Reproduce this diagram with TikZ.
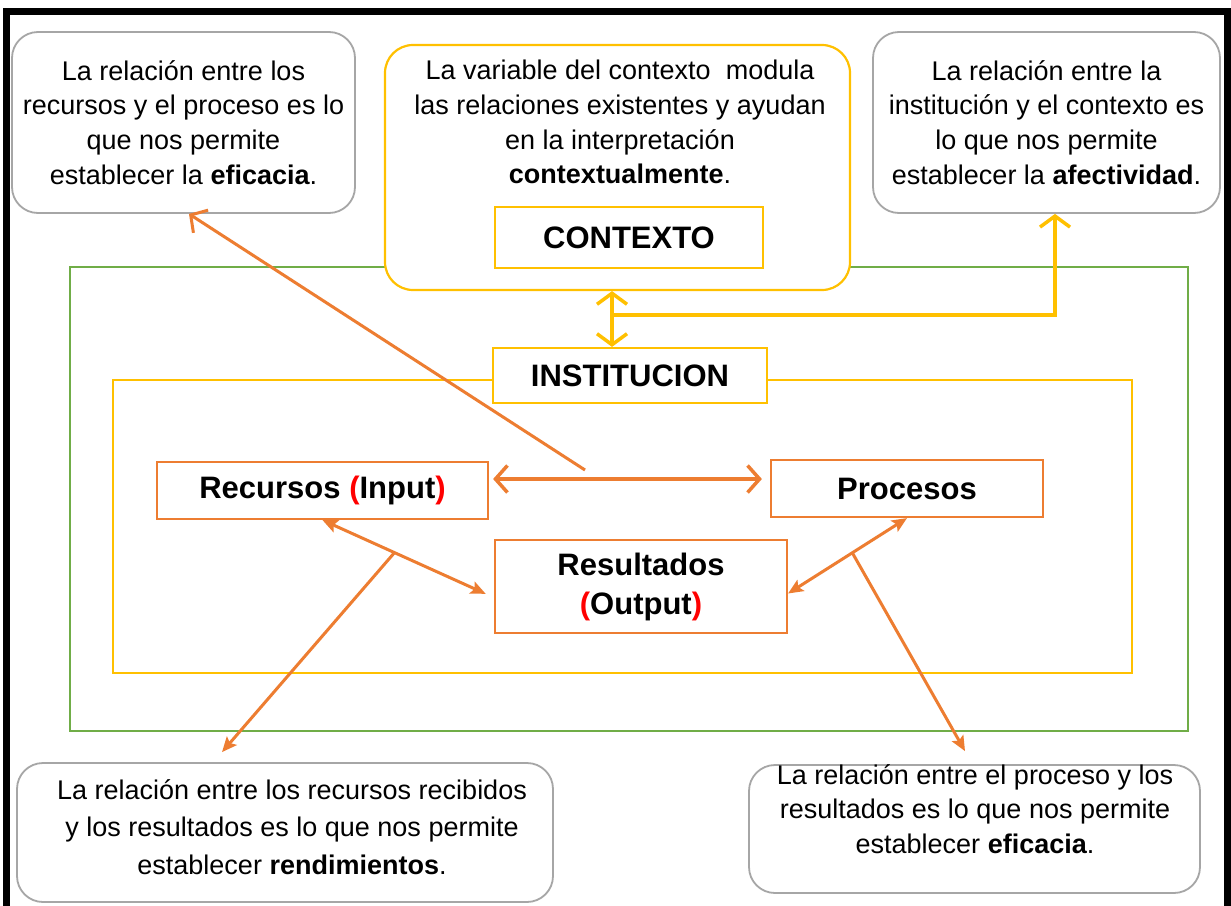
\documentclass[tikz,border=0pt]{standalone}
\usepackage{fontspec}
\setmainfont{Liberation Sans}
\usetikzlibrary{arrows.meta, positioning}

\definecolor{cOrange}{HTML}{ED7D31}
\definecolor{cYellow}{HTML}{FFC000}
\definecolor{cGreen}{HTML}{70AD47}
\definecolor{cGray}{HTML}{A6A6A6}
\definecolor{cRed}{HTML}{FF0000}

\begin{document}
\begin{tikzpicture}[x=1pt, y=-1pt]
		\tikzstyle{NoteBox} = [rectangle, rounded corners=26pt, draw=cGray, line width=1.8pt, fill=white]
		\tikzstyle{NoteText} = [align=center, inner sep=0pt, font=\fontsize{27}{34.7}\selectfont]
		\tikzstyle{FrameBox} = [rectangle, line width=2pt]
		\tikzstyle{OrangeBox} = [rectangle, draw=cOrange, line width=2.2pt, fill=white, align=center, font=\bfseries\fontsize{31}{39}\selectfont]
		\tikzstyle{YellowBox} = [rectangle, draw=cYellow, line width=2.2pt, fill=white, font=\bfseries\fontsize{31}{37}\selectfont]
		\tikzstyle{ctxArrow} = [color=cYellow, line width=3.5pt, >={Straight Barb[length=11pt, width=30pt]}]
		\tikzstyle{barbArrow} = [color=cOrange, line width=3.5pt, >={Straight Barb[length=12pt, width=27pt]}]
		\tikzstyle{arrow} = [color=cOrange, line width=3pt, >={Stealth[length=15pt, width=13pt, inset=3pt]}]
		
		\useasboundingbox (0,0) rectangle (1231,905);
		\fill[white] (0,0) rectangle (1231,905);
		\draw[line width=7.5pt] (6.5,915) -- (6.5,11.5) -- (1227.5,11.5) -- (1227.5,915);
		
		% entorno y contexto
		\node (entorno) [FrameBox, draw=cGreen, minimum width=1118pt, minimum height=464pt] at (629,499) {};
		\node (ctxOuter) [rectangle, rounded corners=28pt, draw=cYellow, line width=2.2pt, fill=white, minimum width=465pt, minimum height=245pt] at (617.5,167.5) {};
		\node (ctxTxt) [NoteText] at (620,122) {La variable del contexto~~modula\\las relaciones existentes y ayudan\\en la interpretaci\'on\\\textbf{contextualmente}.};
		\node (ctx) [YellowBox, minimum width=268pt, minimum height=61pt] at (629,237.5) {CONTEXTO};
		
		% institucion
		\node (instMarco) [FrameBox, draw=cYellow, minimum width=1019pt, minimum height=293pt] at (622.5,526.5) {};
		\node (inst) [YellowBox, minimum width=274pt, minimum height=55pt] at (630,375.5) {INSTITUCION};
		
		\node (rec) [OrangeBox, minimum width=331pt, minimum height=57pt] at (322.5,490.5) {Recursos \textcolor{cRed}{(}Input\textcolor{cRed}{)}};
		\node (pro) [OrangeBox, minimum width=272pt, minimum height=57pt] at (907,488.5) {Procesos};
		\node (res) [OrangeBox, minimum width=292pt, minimum height=93pt] at (641,586.5) {Resultados\\\textcolor{cRed}{(}Output\textcolor{cRed}{)}};
		
		% notas
		\node (efic) [NoteBox, NoteText, minimum width=343pt, minimum height=181pt] at (183.5,122.5) {La relaci\'on entre los\\recursos y el proceso es lo\\que nos permite\\establecer la \textbf{eficacia}.};
		\node (afect) [NoteBox, NoteText, minimum width=347pt, minimum height=181pt] at (1046.5,122.5) {La relaci\'on entre la\\instituci\'on y el contexto es\\lo que nos permite\\establecer la \textbf{afectividad}.};
		\node (rend) [NoteBox, minimum width=536pt, minimum height=139pt] at (285,832.5) {};
		\node (rendTxt) [NoteText, font=\fontsize{27}{37.5}\selectfont] at (292,827) {La relaci\'on entre los recursos recibidos\\y los resultados es lo que nos permite\\establecer \textbf{rendimientos}.};
		\node (efic2) [NoteBox, minimum width=451pt, minimum height=128pt] at (974.5,829) {};
		\node (efic2Txt) [NoteText] at (975,809) {La relaci\'on entre el proceso y los\\resultados es lo que nos permite\\establecer \textbf{eficacia}.};
		
		% conectores
		\coordinate (cruce) at (612,315);
		\coordinate (cruceRec) at (585,470);
		\draw[ctxArrow, <->] (cruce |- ctxOuter.south) -- (cruce |- inst.north);
		\draw[ctxArrow, ->] (cruce) -| ([xshift=8.5pt]afect.south);
		
		\draw[barbArrow, <->, shorten <=4pt, shorten >=8pt] ([yshift=11.5pt]rec.east) -- ([yshift=11.5pt]rec.east -| pro.west);
		\draw[barbArrow, line width=3pt, ->] (cruceRec) -- ([xshift=5.5pt]efic.south);
		
		\draw[arrow, <->, shorten >=9pt] (rec.south) -- coordinate[pos=0.42] (ramaRec) ([yshift=-11pt]res.west);
		\draw[arrow, ->] (ramaRec) -- ([xshift=-63pt, yshift=10pt]rend.north);
		\draw[arrow, <->] (pro.south) -- coordinate[pos=0.46] (ramaPro) ([yshift=-7pt]res.east);
		\draw[arrow, ->] (ramaPro) -- ([xshift=-9.5pt, yshift=13pt]efic2.north);
\end{tikzpicture}
\end{document}
